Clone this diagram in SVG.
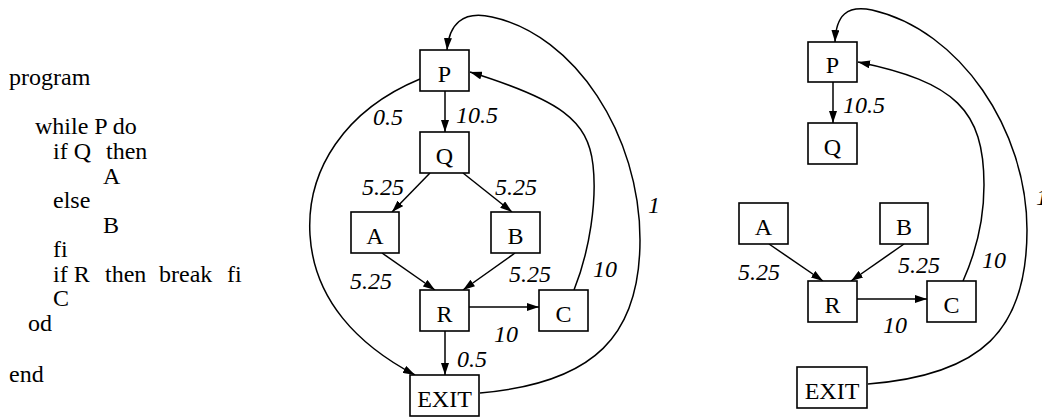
<svg xmlns="http://www.w3.org/2000/svg" width="1042" height="419" viewBox="0 0 1042 419">
<style>
text{font-family:"Liberation Serif","Times New Roman",serif;font-size:24px;fill:#000}
.n rect{fill:#fff;stroke:#000;stroke-width:1.6}
.n text{text-anchor:middle}
.e{fill:none;stroke:#000;stroke-width:1.5;marker-end:url(#ah)}
.lb{font-style:italic}
</style>
<defs>
<marker id="ah" viewBox="0 0 12 8" refX="12" refY="4" markerWidth="12" markerHeight="8" markerUnits="userSpaceOnUse" orient="auto">
<path d="M0,0 L12,4 L0,8 z" fill="#000"/>
</marker>
</defs>
<rect width="1042" height="419" fill="#fff"/>

<g id="program-text">
<text x="9" y="85">program</text>
<text x="35" y="134">while P do</text>
<text y="159"><tspan x="53">if Q</tspan><tspan x="106">then</tspan></text>
<text x="103" y="184">A</text>
<text x="53" y="208">else</text>
<text x="103" y="233">B</text>
<text x="53" y="257">fi</text>
<text y="282"><tspan x="53">if R</tspan><tspan x="105">then</tspan><tspan x="159">break</tspan><tspan x="227">fi</tspan></text>
<text x="53" y="306">C</text>
<text x="28" y="331">od</text>
<text x="9" y="382">end</text>
</g>

<g id="connectors">
<!-- left graph -->
<line class="e" x1="445" y1="91" x2="445" y2="132"/>
<line class="e" x1="430" y1="173" x2="392" y2="212"/>
<line class="e" x1="463" y1="173" x2="512" y2="212"/>
<line class="e" x1="382" y1="253" x2="435" y2="290"/>
<line class="e" x1="515" y1="253" x2="463" y2="290"/>
<line class="e" x1="469" y1="307" x2="539" y2="307"/>
<line class="e" x1="445" y1="331" x2="445" y2="375"/>
<path class="e" d="M420,79 C345,110 306,170 310,235 C314,300 358,345 415,375"/>
<path class="e" d="M574,290 C590,250 597,200 593,165 C588,120 560,100 470,72"/>
<path class="e" d="M480,393 C595,383 640,335 640,240 C640,135 575,35 492,17 C462,10 449,25 447,50"/>
<text class="lb" x="373" y="125">0.5</text>
<text class="lb" x="456" y="123">10.5</text>
<text class="lb" x="362" y="195">5.25</text>
<text class="lb" x="495" y="195">5.25</text>
<text class="lb" x="350" y="289">5.25</text>
<text class="lb" x="509" y="282">5.25</text>
<text class="lb" x="593" y="277">10</text>
<text class="lb" x="494" y="342">10</text>
<text class="lb" x="457" y="367">0.5</text>
<text class="lb" x="648" y="213">1</text>
<!-- right graph -->
<line class="e" x1="833" y1="82" x2="833" y2="123"/>
<line class="e" x1="769" y1="244" x2="823" y2="281"/>
<line class="e" x1="904" y1="244" x2="851" y2="281"/>
<line class="e" x1="857" y1="299" x2="927" y2="299"/>
<path class="e" d="M963,281 C976,252 984,220 984,185 C984,110 955,82 858,62"/>
<path class="e" d="M868,384 C982,375 1027,330 1027,230 C1027,130 960,30 872,10 C847,5 836,15 835,42"/>
<text class="lb" x="843" y="113">10.5</text>
<text class="lb" x="738" y="280">5.25</text>
<text class="lb" x="898" y="273">5.25</text>
<text class="lb" x="982" y="268">10</text>
<text class="lb" x="883" y="333">10</text>
<text class="lb" x="1036" y="205">1</text>
</g>

<g id="L-P" class="n"><rect x="420" y="50" width="49" height="41"/><text x="444.5" y="82">P</text></g>
<g id="L-Q" class="n"><rect x="420" y="132" width="49" height="41"/><text x="444.5" y="164">Q</text></g>
<g id="L-A" class="n"><rect x="351" y="212" width="48" height="41"/><text x="375" y="244">A</text></g>
<g id="L-B" class="n"><rect x="491" y="212" width="49" height="41"/><text x="515.5" y="244">B</text></g>
<g id="L-R" class="n"><rect x="420" y="290" width="49" height="41"/><text x="444.5" y="322">R</text></g>
<g id="L-C" class="n"><rect x="539" y="290" width="49" height="41"/><text x="563.5" y="322">C</text></g>
<g id="L-EXIT" class="n"><rect x="410" y="375" width="69" height="41"/><text x="444.5" y="407">EXIT</text></g>

<g id="R-P" class="n"><rect x="808" y="42" width="49" height="40"/><text x="832.5" y="73">P</text></g>
<g id="R-Q" class="n"><rect x="808" y="123" width="49" height="41"/><text x="832.5" y="155">Q</text></g>
<g id="R-A" class="n"><rect x="739" y="203" width="49" height="41"/><text x="763.5" y="235">A</text></g>
<g id="R-B" class="n"><rect x="880" y="203" width="48" height="41"/><text x="904" y="235">B</text></g>
<g id="R-R" class="n"><rect x="808" y="281" width="49" height="41"/><text x="832.5" y="313">R</text></g>
<g id="R-C" class="n"><rect x="927" y="281" width="49" height="41"/><text x="951.5" y="313">C</text></g>
<g id="R-EXIT" class="n"><rect x="797" y="367" width="70" height="41"/><text x="832" y="399">EXIT</text></g>
</svg>
